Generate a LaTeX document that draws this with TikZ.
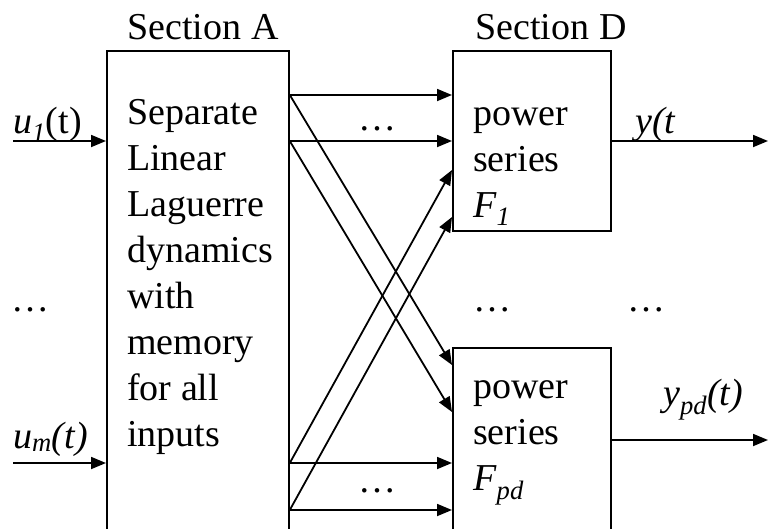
\documentclass[tikz,border=0pt]{standalone}
\usepackage{fontspec}
\setmainfont{Liberation Serif}
\usetikzlibrary{arrows.meta, calc}

\begin{document}
\begin{tikzpicture}[
    x=1pt, y=-1pt,
    font=\fontsize{38}{46}\selectfont,
    blk/.style={draw, line width=1.8pt, inner sep=0pt, anchor=north west},
    txt/.style={inner sep=0pt, align=left, anchor=base west},
    dts/.style={inner sep=0pt, anchor=base},
    wire/.style={line width=1.8pt, -{Triangle[length=15pt, width=12pt]}}
]
\useasboundingbox (0,0) rectangle (768,528);
\clip (0,0) rectangle (768,528);

% blocks
\node[blk, minimum width=182pt, minimum height=500pt] (secA) at (106,50) {};
\node[blk, minimum width=158pt, minimum height=180pt] (fTop) at (452,50) {};
\node[blk, minimum width=158pt, minimum height=200pt] (fBot) at (452,347) {};

\node[anchor=base, inner sep=0pt] (labA) at (203,39) {Section A};
\node[anchor=base, inner sep=0pt] (labD) at (551,39) {Section D};

% base = last line
\node[txt] (txtA) at (127,446) {Separate\\Linear\\Laguerre\\dynamics\\with\\memory\\for all\\inputs};
\node[txt] (txtTop) at (473,217) {power\\series\\\textit{F}\textsubscript{\textit{1}}};
\node[txt] (txtBot) at (473,490) {power\\series\\\textit{F}\textsubscript{\textit{pd}}};

% signal labels
\node[txt] (lu1) at (13,133) {\textit{u}\textsubscript{\textit{1}}(t)};
\node[txt] (lum) at (13,448) {\textit{u}\textsubscript{\textit{m}}\textit{(t)}};
\node[txt] (ly1) at (635,133) {\textit{y(t}};
\node[txt] (lypd) at (663,405) {\textit{y}\textsubscript{\textit{pd}}\textit{(t)}};

\node[dts] (dl) at (31,311) {\dots};
\node[dts] (dm) at (492,311) {\dots};
\node[dts] (dr) at (646,311) {\dots};
\node[dts] (dt) at (377,130) {\dots};
\node[dts] (db) at (377,492) {\dots};

% connectors
\coordinate (u1) at (13,141);
\coordinate (um) at (13,463);
\coordinate (y1) at (768,141);
\coordinate (ypd) at (768,440);
\draw[wire] (u1) -- (u1 -| secA.west);
\draw[wire] (um) -- (um -| secA.west);
\draw[wire] (fTop.east |- y1) -- (y1);
\draw[wire] (fBot.east |- ypd) -- (ypd);

\foreach \a/\b/\t in {45/45/fTop, 91/91/fTop, 45/18/fBot, 91/65/fBot,
                      413/120/fTop, 460/167/fTop, 413/116/fBot, 460/163/fBot}
  \draw[wire] ($(secA.north east)+(0,\a)$) -- ($(\t.north west)+(0,\b)$);
\end{tikzpicture}
\end{document}
